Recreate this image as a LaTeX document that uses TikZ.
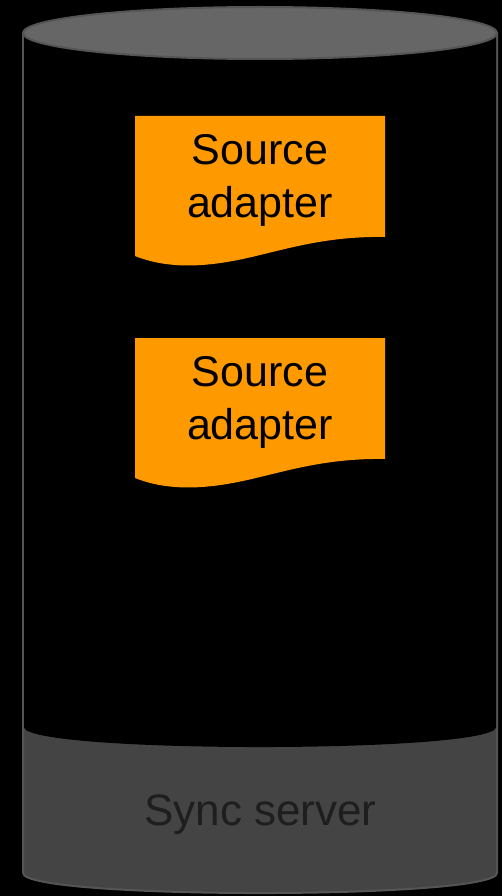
\documentclass[tikz,border=0pt]{standalone}
\usepackage{fontspec}
\setmainfont{Liberation Sans}
\usepackage{tikz}

\definecolor{adapterorange}{HTML}{FF9900}
\definecolor{servertop}{HTML}{666666}
\definecolor{serverbody}{HTML}{444444}
\definecolor{serveredge}{HTML}{555555}
\definecolor{servertext}{HTML}{1E1E1E}

\begin{document}
\begin{tikzpicture}[x=1pt, y=-1pt,
	adapter/.style={fill=adapterorange},
	adapter text/.style={align=center, inner sep=0pt, text=black, font=\fontsize{43pt}{53pt}\selectfont},
	server text/.style={inner sep=0pt, text=servertext, font=\fontsize{44pt}{53pt}\selectfont}]
	
	\useasboundingbox (0,0) rectangle (502,896);
	\fill[black] (0,0) rectangle (502,896);
	
	% cylinder
	\filldraw[fill=serverbody, draw=serveredge, line width=2pt] (23,33) -- (23,873) .. controls (23,899.7) and (497,899.7) .. (497,873) -- (497,33) -- cycle;
	\fill[black] (24,33) -- (24,727) .. controls (24,753.7) and (496,753.7) .. (496,727) -- (496,33) -- cycle;
	\filldraw[fill=servertop, draw=serveredge, line width=2pt] (260,33) ellipse [x radius=237pt, y radius=26pt];
	
	% adapters
	\foreach \dy/\name in {0/adapter_top, 222/adapter_bottom}{
		\fill[adapter, shift={(0,\dy)}] (135,116) -- (385,116) -- (385,237) .. controls (330,236) and (290,248) .. (260,255) .. controls (220,265) and (175,272) .. (135,256) -- cycle;
		\node[adapter text] (\name) at (260,180.5+\dy) {Source\\adapter};
	}
	
	\node[server text] (server) at (260.5,815) {Sync server};
	
\end{tikzpicture}
\end{document}
